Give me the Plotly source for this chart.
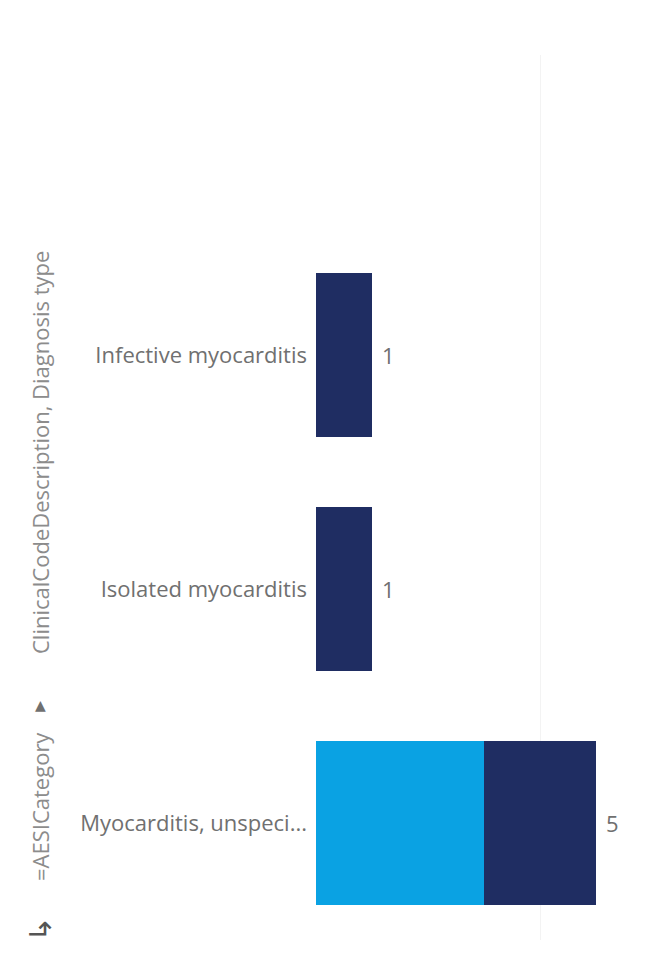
import plotly.graph_objects as go

# Diagnosis rows (top to bottom) and counts per diagnosis type
categories = ["Infective myocarditis", "Isolated myocarditis", "Myocarditis, unspeci..."]
series_names = ["Diagnosis type A", "Diagnosis type B"]
light_values = [0, 0, 3]
dark_values = [1, 1, 2]
totals = [a + b for a, b in zip(light_values, dark_values)]

LIGHT = "#0aa2e3"
DARK = "#1f2d62"
FONT = "Open Sans"
FS = 22

fig = go.Figure()
fig.add_trace(go.Bar(
    y=categories, x=light_values, orientation="h", name=series_names[0],
    marker=dict(color=LIGHT, line=dict(width=0)),
))
fig.add_trace(go.Bar(
    y=categories, x=dark_values, orientation="h", name=series_names[1],
    marker=dict(color=DARK, line=dict(width=0)),
))

W, H = 645, 977
ml, mr, mt, mb = 316, 5, 55, 37
px_per_unit = 56
x_max = (W - ml - mr) / px_per_unit
row_px = 234
y_top = 2.5 - (H - mt - mb) / row_px

fig.update_layout(
    width=W, height=H,
    margin=dict(l=ml, r=mr, t=mt, b=mb),
    barmode="stack", bargap=0.30,
    showlegend=False,
    plot_bgcolor="white", paper_bgcolor="white",
    font=dict(family=FONT, color="#666666"),
    xaxis=dict(range=[0, x_max], showticklabels=False, showgrid=True,
               gridcolor="#f3f3f3", gridwidth=1, dtick=4, tick0=0,
               zeroline=False, showline=False),
    yaxis=dict(type="category", categoryorder="array", categoryarray=categories,
               range=[2.5, y_top], showgrid=False, zeroline=False, showline=False,
               ticks="", ticklabelstandoff=8,
               tickfont=dict(family=FONT, size=FS, color="#707070")),
)

# Total labels just past the end of each stacked bar
for cat, tot in zip(categories, totals):
    fig.add_annotation(x=tot, y=cat, text=str(tot), showarrow=False,
                       xanchor="left", yanchor="middle", xshift=8,
                       font=dict(family=FONT, size=FS, color="#707070"))

pw, ph = W - ml - mr, H - mt - mb


def px_x(v):
    return (v - ml) / pw


def px_y(v):
    return (H - mb - v) / ph


title_color = "#8c8c8c"
fig.add_annotation(xref="paper", yref="paper", x=px_x(40), y=px_y(453),
                   text="ClinicalCodeDescription, Diagnosis type", textangle=-90,
                   showarrow=False, font=dict(family=FONT, size=FS, color=title_color),
                   xanchor="center", yanchor="middle")
fig.add_annotation(xref="paper", yref="paper", x=px_x(40), y=px_y(705),
                   text="▲", showarrow=False,
                   font=dict(family="DejaVu Sans", size=14, color="#707070"),
                   xanchor="center", yanchor="middle")
fig.add_annotation(xref="paper", yref="paper", x=px_x(40), y=px_y(807),
                   text="=AESICategory", textangle=-90, showarrow=False,
                   font=dict(family=FONT, size=FS, color=title_color),
                   xanchor="center", yanchor="middle")
fig.add_annotation(xref="paper", yref="paper", x=px_x(40), y=px_y(930),
                   text="↳", textangle=-90, showarrow=False,
                   font=dict(family="DejaVu Sans", size=30, color="#555555"),
                   xanchor="center", yanchor="middle")

fig.write_html("out.html")
